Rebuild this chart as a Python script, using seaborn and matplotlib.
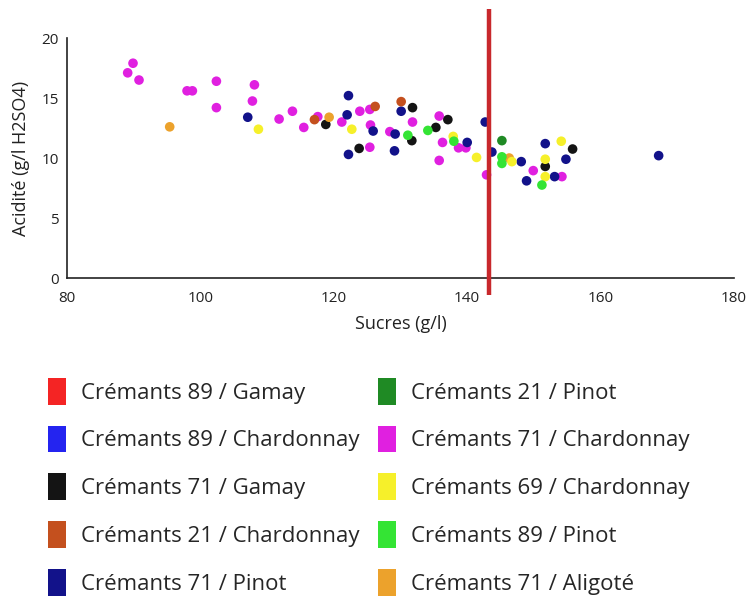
import pandas as pd
import numpy as np
import seaborn as sns
import matplotlib.pyplot as plt
from matplotlib.patches import Patch

# series names (legend order, column by column)
groups = ["Crémants 89 / Gamay", "Crémants 89 / Chardonnay", "Crémants 71 / Gamay",
          "Crémants 21 / Chardonnay", "Crémants 71 / Pinot", "Crémants 21 / Pinot",
          "Crémants 71 / Chardonnay", "Crémants 69 / Chardonnay", "Crémants 89 / Pinot",
          "Crémants 71 / Aligoté"]
colors = ["#f42424", "#2424f0", "#141414", "#c4501e", "#12128a", "#1f8a24",
          "#e020e0", "#f6f02a", "#34e434", "#eca22c"]

# sugar (g/l) / acidity (g/l H2SO4) per series
sucres_71_chard = [89.9, 89.1, 90.8, 98.0, 98.8, 102.4, 102.4, 108.1, 107.8, 111.8, 113.8,
                   115.5, 117.6, 121.2, 123.9, 125.4, 125.5, 125.4, 128.4, 131.8, 135.8,
                   136.3, 138.7, 139.8, 135.8, 142.9, 149.9, 154.2]
acid_71_chard = [17.9, 17.1, 16.5, 15.6, 15.6, 16.4, 14.2, 16.1, 14.75, 13.25, 13.9,
                 12.55, 13.45, 13.0, 13.9, 14.05, 12.75, 10.9, 12.2, 13.0, 13.5,
                 11.3, 10.85, 10.85, 9.8, 8.6, 8.95, 8.45]
sucres_71_pinot = [107.1, 122.2, 122.0, 122.2, 125.9, 129.2, 129.1, 130.1, 140.0, 142.7,
                   143.7, 148.1, 148.9, 151.7, 154.8, 153.1, 168.7]
acid_71_pinot = [13.4, 15.2, 13.6, 10.3, 12.25, 12.0, 10.6, 13.9, 11.3, 13.0,
                 10.5, 9.7, 8.1, 11.2, 9.9, 8.45, 10.2]
sucres_71_gamay = [118.8, 123.8, 131.8, 131.7, 135.3, 137.1, 151.7, 155.8]
acid_71_gamay = [12.8, 10.8, 14.2, 11.45, 12.55, 13.2, 9.3, 10.75]
sucres_21_chard = [117.1, 126.2, 130.1]
acid_21_chard = [13.2, 14.3, 14.7]
sucres_71_aligote = [95.4, 119.3, 146.3]
acid_71_aligote = [12.6, 13.4, 10.0]
sucres_69_chard = [108.7, 122.7, 137.9, 141.4, 146.7, 151.7, 154.1, 151.7]
acid_69_chard = [12.4, 12.4, 11.8, 10.05, 9.7, 9.9, 11.4, 8.45]
sucres_89_pinot = [131.1, 134.1, 138.0, 145.2, 145.2, 151.2]
acid_89_pinot = [11.9, 12.3, 11.4, 10.1, 9.55, 7.75]
sucres_21_pinot = [145.2]
acid_21_pinot = [11.45]

seuil = 143.2  # red reference line

series = {
    "Crémants 71 / Chardonnay": (sucres_71_chard, acid_71_chard),
    "Crémants 71 / Pinot": (sucres_71_pinot, acid_71_pinot),
    "Crémants 71 / Gamay": (sucres_71_gamay, acid_71_gamay),
    "Crémants 21 / Chardonnay": (sucres_21_chard, acid_21_chard),
    "Crémants 71 / Aligoté": (sucres_71_aligote, acid_71_aligote),
    "Crémants 69 / Chardonnay": (sucres_69_chard, acid_69_chard),
    "Crémants 89 / Pinot": (sucres_89_pinot, acid_89_pinot),
    "Crémants 21 / Pinot": (sucres_21_pinot, acid_21_pinot),
}
df = pd.concat([pd.DataFrame({"sucres": x, "acidite": y, "groupe": g})
                for g, (x, y) in series.items()], ignore_index=True)

sns.set_style("white")
plt.rcParams['font.family'] = ['Open Sans', 'DejaVu Sans']

fig = plt.figure(figsize=(7.5, 5.97), dpi=100)
ax = fig.add_axes([0.0893, 0.5343, 0.8894, 0.402])

pal = dict(zip(groups, colors))
sns.scatterplot(data=df, x="sucres", y="acidite", hue="groupe", palette=pal,
                s=48, linewidth=0, legend=False, ax=ax)

ax.plot([seuil, seuil], [-1.4, 22.4], color="#c8282c", lw=3.2, clip_on=False,
        solid_capstyle="butt", zorder=5)

ax.set_xlim(80, 180)
ax.set_ylim(0, 20)
ax.set_xticks([80, 100, 120, 140, 160, 180])
ax.set_yticks([0, 5, 10, 15, 20])
sns.despine(ax=ax)
for sp in ["left", "bottom"]:
    ax.spines[sp].set_color("#222222")
    ax.spines[sp].set_linewidth(1.2)
ax.tick_params(direction="in", length=5, width=1, colors="#222222", labelsize=11)
ax.tick_params(axis="x", pad=9)
ax.tick_params(axis="y", pad=6)
ax.set_xlabel("Sucres (g/l)", fontsize=13, color="#222222", labelpad=7)
ax.set_ylabel("Acidité (g/l H2SO4)", fontsize=13, color="#222222", labelpad=8)

handles = [Patch(facecolor=c, edgecolor="none", label=g) for g, c in zip(groups, colors)]
fig.legend(handles=handles, loc="upper left", bbox_to_anchor=(0.064, 0.367),
           ncol=2, frameon=False, fontsize=16, handlelength=0.82, handleheight=1.48,
           handletextpad=0.68, labelspacing=0.94, columnspacing=0.8,
           borderpad=0, borderaxespad=0)

fig.savefig("out.png", dpi=100)
